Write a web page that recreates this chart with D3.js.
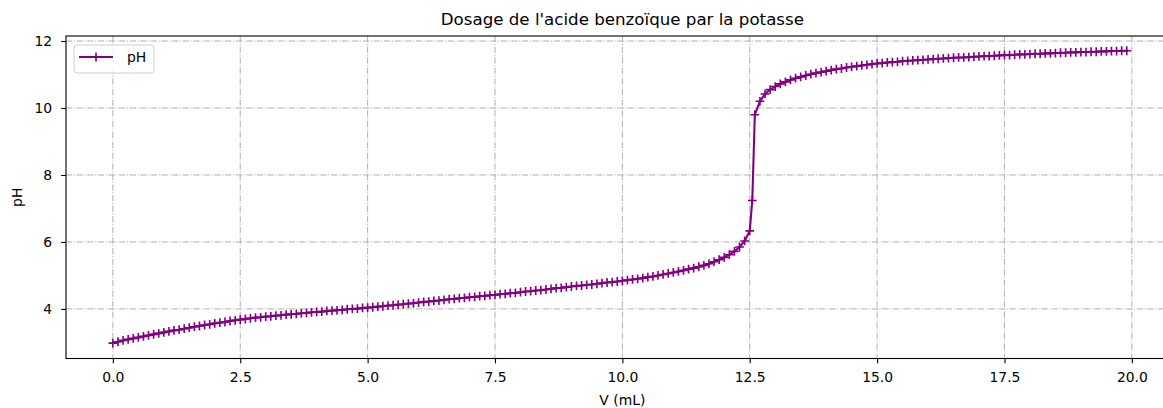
<!DOCTYPE html>
<html><head><meta charset="utf-8">
<script src="https://cdn.jsdelivr.net/npm/d3@7"></script>
<style>
body{margin:0;background:#fff}
svg{display:block}
text{font-family:"DejaVu Sans",sans-serif;fill:#000}
</style>
</head><body>
<svg id="chart" width="1163" height="408"></svg>
<script>
// ---------- data ----------
const volumes = [
 0.0,0.1,0.2,0.3,0.4,0.5,0.6,0.7,0.8,0.9,
 1.0,1.1,1.2,1.3,1.4,1.5,1.6,1.7,1.8,1.9,
 2.0,2.1,2.2,2.3,2.4,2.5,2.6,2.7,2.8,2.9,
 3.0,3.1,3.2,3.3,3.4,3.5,3.6,3.7,3.8,3.9,
 4.0,4.1,4.2,4.3,4.4,4.5,4.6,4.7,4.8,4.9,
 5.0,5.1,5.2,5.3,5.4,5.5,5.6,5.7,5.8,5.9,
 6.0,6.1,6.2,6.3,6.4,6.5,6.6,6.7,6.8,6.9,
 7.0,7.1,7.2,7.3,7.4,7.5,7.6,7.7,7.8,7.9,
 8.0,8.1,8.2,8.3,8.4,8.5,8.6,8.7,8.8,8.9,
 9.0,9.1,9.2,9.3,9.4,9.5,9.6,9.7,9.8,9.9,
 10.0,10.1,10.2,10.3,10.4,10.5,10.6,10.7,10.8,10.9,
 11.0,11.1,11.2,11.3,11.4,11.5,11.6,11.7,11.8,11.9,
 12.0,12.1,12.2,12.3,12.4,12.5,12.55,12.6,12.7,12.8,12.9,
 13.0,13.1,13.2,13.3,13.4,13.5,13.6,13.7,13.8,13.9,
 14.0,14.1,14.2,14.3,14.4,14.5,14.6,14.7,14.8,14.9,
 15.0,15.1,15.2,15.3,15.4,15.5,15.6,15.7,15.8,15.9,
 16.0,16.1,16.2,16.3,16.4,16.5,16.6,16.7,16.8,16.9,
 17.0,17.1,17.2,17.3,17.4,17.5,17.6,17.7,17.8,17.9,
 18.0,18.1,18.2,18.3,18.4,18.5,18.6,18.7,18.8,18.9,
 19.0,19.1,19.2,19.3,19.4,19.5,19.6,19.7,19.8,19.9
];
const pHValues = [
 2.98,3.02,3.06,3.09,3.12,3.15,3.18,3.21,3.24,3.27,
 3.30,3.33,3.36,3.38,3.41,3.44,3.47,3.49,3.52,3.54,
 3.57,3.59,3.61,3.64,3.66,3.68,3.70,3.72,3.74,3.75,
 3.77,3.78,3.80,3.81,3.83,3.84,3.85,3.87,3.88,3.90,
 3.91,3.92,3.94,3.95,3.96,3.97,3.99,4.00,4.01,4.03,
 4.04,4.05,4.07,4.08,4.10,4.11,4.13,4.14,4.16,4.17,
 4.19,4.21,4.22,4.24,4.25,4.27,4.29,4.30,4.32,4.33,
 4.35,4.36,4.38,4.39,4.41,4.42,4.44,4.45,4.47,4.48,
 4.50,4.52,4.53,4.55,4.56,4.58,4.60,4.62,4.63,4.65,
 4.67,4.69,4.70,4.72,4.73,4.75,4.77,4.79,4.80,4.82,
 4.84,4.86,4.88,4.90,4.92,4.95,4.97,5.00,5.03,5.06,
 5.09,5.12,5.15,5.19,5.22,5.26,5.30,5.35,5.41,5.47,
 5.54,5.62,5.72,5.85,6.03,6.33,7.24,9.80,10.20,10.42,10.55,
 10.64,10.72,10.78,10.84,10.89,10.93,10.97,11.01,11.04,11.07,
 11.10,11.13,11.16,11.18,11.21,11.23,11.25,11.27,11.29,11.31,
 11.33,11.34,11.36,11.37,11.38,11.40,11.41,11.42,11.43,11.44,
 11.45,11.46,11.47,11.48,11.49,11.50,11.51,11.51,11.52,11.53,
 11.54,11.55,11.55,11.56,11.57,11.58,11.58,11.59,11.60,11.60,
 11.61,11.62,11.62,11.63,11.63,11.64,11.65,11.65,11.66,11.66,
 11.67,11.67,11.68,11.68,11.69,11.69,11.70,11.70,11.71,11.71
];
const xTicks = [0, 2.5, 5, 7.5, 10, 12.5, 15, 17.5, 20];
const yTicks = [4, 6, 8, 10, 12];
const titleText = "Dosage de l'acide benzoïque par la potasse";
const xLabel = "V (mL)";
const yLabel = "pH";
const seriesName = "pH";
const lineColor = "purple";

// ---------- layout ----------
const svg = d3.select("#chart");
const pL = 66, pT = 36, pB = 358.5, pR = 1177.7;
const x = d3.scaleLinear().domain([-0.92, 20.9]).range([pL, pR]);
const y = d3.scaleLinear().domain([2.52, 12.15]).range([pB, pT]);
const fs = 13.9;

// grid
const grid = svg.append("g").attr("stroke", "#b0b0b0").attr("stroke-width", 1)
  .attr("stroke-dasharray", "6.4,1.6,1,1.6").attr("fill", "none");
xTicks.forEach(t => grid.append("line").attr("x1", x(t)).attr("x2", x(t)).attr("y1", pT).attr("y2", pB));
yTicks.forEach(t => grid.append("line").attr("x1", pL).attr("x2", pR).attr("y1", y(t)).attr("y2", y(t)));

// series line
const pts = volumes.map((v, i) => [v, pHValues[i]]);
svg.append("path").datum(pts)
  .attr("fill", "none").attr("stroke", lineColor).attr("stroke-width", 2.08)
  .attr("stroke-linejoin", "round").attr("stroke-linecap", "square")
  .attr("d", d3.line().x(d => x(d[0])).y(d => y(d[1])));

// markers
const m = 4.4;
svg.append("g").selectAll("path").data(pts).join("path")
  .attr("fill", "none").attr("stroke", lineColor).attr("stroke-width", 1.6)
  .attr("d", d => {
    const cx = x(d[0]), cy = y(d[1]);
    return `M${cx - m},${cy}H${cx + m}M${cx},${cy - m}V${cy + m}`;
  });

// axes
const xAxis = d3.axisBottom(x).tickValues(xTicks).tickFormat(d3.format(".1f"))
  .tickSize(4.86).tickPadding(8.5);
const gx = svg.append("g").attr("transform", `translate(0,${pB})`).call(xAxis);
const yAxis = d3.axisLeft(y).tickValues(yTicks).tickFormat(d3.format("d"))
  .tickSize(4.86).tickPadding(9);
const gy = svg.append("g").attr("transform", `translate(${pL},0)`).call(yAxis);
[gx, gy].forEach(g => {
  g.select(".domain").remove();
  g.selectAll(".tick line").attr("stroke", "#000").attr("stroke-width", 1.1);
  g.selectAll(".tick text").attr("font-size", fs).attr("font-family", "DejaVu Sans").attr("fill", "#000");
});

// spines
const sp = svg.append("g").attr("stroke", "#000").attr("stroke-width", 1.1).attr("fill", "none");
sp.append("rect").attr("x", pL).attr("y", pT).attr("width", pR - pL).attr("height", pB - pT);

// title & labels
svg.append("text").attr("x", x(10)).attr("y", 25).attr("text-anchor", "middle")
  .attr("font-size", 16.67).text(titleText);
svg.append("text").attr("x", x(10)).attr("y", 405).attr("text-anchor", "middle")
  .attr("font-size", fs).text(xLabel);
svg.append("text").attr("transform", `translate(22,${(pT + pB) / 2}) rotate(-90)`)
  .attr("text-anchor", "middle").attr("font-size", fs).text(yLabel);

// legend
const lg = svg.append("g");
lg.append("rect").attr("x", 74).attr("y", 45).attr("width", 80).attr("height", 28)
  .attr("rx", 3).attr("fill", "#fff").attr("fill-opacity", 0.8)
  .attr("stroke", "#d0d0d0").attr("stroke-width", 1);
lg.append("line").attr("x1", 79).attr("x2", 113).attr("y1", 57).attr("y2", 57)
  .attr("stroke", lineColor).attr("stroke-width", 2.08);
lg.append("path").attr("d", `M${96 - m},57H${96 + m}M96,${57 - m}V${57 + m}`)
  .attr("stroke", lineColor).attr("stroke-width", 1.6).attr("fill", "none");
lg.append("text").attr("x", 127).attr("y", 62).attr("font-size", fs).text(seriesName);
</script>
</body></html>
